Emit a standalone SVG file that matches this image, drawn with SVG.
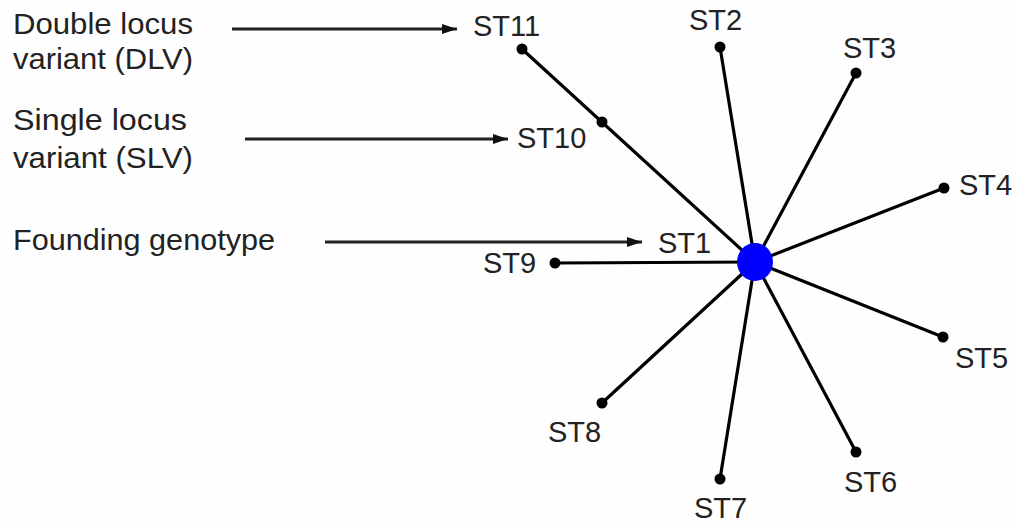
<svg xmlns="http://www.w3.org/2000/svg" width="1017" height="522" viewBox="0 0 1017 522">
  <style>
    text { font-family: "Liberation Sans", Arial, sans-serif; font-size: 29px; fill: #222; }
    #legend text { font-size: 30px; }
    .edge { stroke: #000; stroke-width: 3.2; stroke-linecap: round; fill: none; }
    .pointer { stroke: #222; stroke-width: 3; fill: none; }
    .dot { fill: #000; }
    .root { fill: #0000ff; }
  </style>
  <defs>
    <marker id="arrowhead" viewBox="0 0 15 10" refX="15" refY="5" markerWidth="15" markerHeight="10" markerUnits="userSpaceOnUse" orient="auto">
      <path d="M0,0 L15,5 L0,10 Z" fill="#111"/>
    </marker>
  </defs>
  <rect width="1017" height="522" fill="#fefefe"/>

  <!-- legend captions -->
  <g id="legend">
    <text x="13" y="34" textLength="180" lengthAdjust="spacingAndGlyphs">Double locus</text>
    <text x="13" y="69" textLength="180" lengthAdjust="spacingAndGlyphs">variant (DLV)</text>
    <text x="13" y="130" textLength="174" lengthAdjust="spacingAndGlyphs">Single locus</text>
    <text x="13" y="168" textLength="180" lengthAdjust="spacingAndGlyphs">variant (SLV)</text>
    <text x="13" y="250" textLength="262" lengthAdjust="spacingAndGlyphs">Founding genotype</text>
  </g>

  <!-- pointers from captions to sequence types -->
  <g id="pointers">
    <line class="pointer" x1="232" y1="29" x2="457" y2="29" marker-end="url(#arrowhead)"/>
    <line class="pointer" x1="245" y1="139" x2="508" y2="139" marker-end="url(#arrowhead)"/>
    <line class="pointer" x1="325" y1="242" x2="642" y2="242" marker-end="url(#arrowhead)"/>
  </g>

  <!-- links radiating from ST1 -->
  <g id="connectors">
    <line class="edge" x1="755" y1="262" x2="522" y2="49"/>
    <line class="edge" x1="755" y1="262" x2="720" y2="47"/>
    <line class="edge" x1="755" y1="262" x2="856" y2="73"/>
    <line class="edge" x1="755" y1="262" x2="944" y2="188"/>
    <line class="edge" x1="755" y1="262" x2="943" y2="337"/>
    <line class="edge" x1="755" y1="262" x2="856" y2="452"/>
    <line class="edge" x1="755" y1="262" x2="720" y2="479"/>
    <line class="edge" x1="755" y1="262" x2="602" y2="403"/>
    <line class="edge" x1="755" y1="262" x2="555" y2="263"/>
  </g>

  <g id="st1"><ellipse class="root" cx="755" cy="262" rx="18" ry="19"/><text x="658" y="253">ST1</text></g>
  <g id="st2"><circle class="dot" cx="720" cy="47" r="5.5"/><text x="689" y="30">ST2</text></g>
  <g id="st3"><circle class="dot" cx="856" cy="73" r="5.5"/><text x="843" y="58">ST3</text></g>
  <g id="st4"><circle class="dot" cx="944" cy="188" r="5.5"/><text x="959" y="195">ST4</text></g>
  <g id="st5"><circle class="dot" cx="943" cy="337" r="5.5"/><text x="955" y="368">ST5</text></g>
  <g id="st6"><circle class="dot" cx="856" cy="452" r="5.5"/><text x="844" y="492">ST6</text></g>
  <g id="st7"><circle class="dot" cx="720" cy="479" r="5.5"/><text x="694" y="518">ST7</text></g>
  <g id="st8"><circle class="dot" cx="602" cy="403" r="5.5"/><text x="548" y="442">ST8</text></g>
  <g id="st9"><circle class="dot" cx="555" cy="263" r="5.5"/><text x="483" y="273">ST9</text></g>
  <g id="st10"><circle class="dot" cx="602" cy="122" r="5.5"/><text x="517" y="148">ST10</text></g>
  <g id="st11"><circle class="dot" cx="522" cy="49" r="5.5"/><text x="473" y="36">ST11</text></g>
</svg>
